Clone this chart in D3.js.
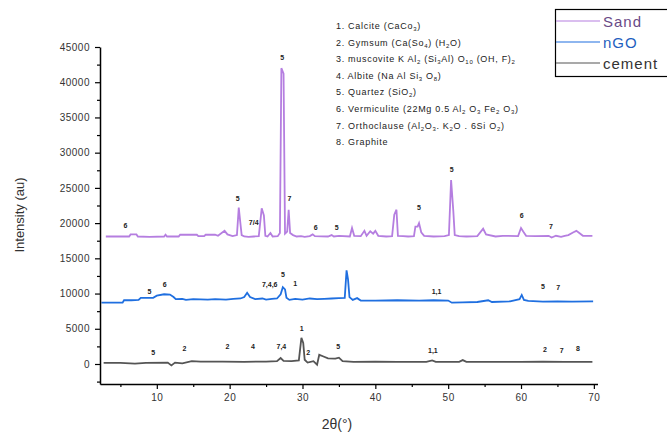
<!DOCTYPE html>
<html lang="en">
<head>
  <meta charset="UTF-8">
  <title>XRD patterns</title>
  <script src="https://d3js.org/d3.v7.min.js"></script>
  <style>
    body { margin: 0; background: #fff; }
    svg { font-family: "Liberation Sans", Arial, sans-serif; }
    .tick text { fill: #333; font-size: 10px; letter-spacing: 0.5px; }
    .peak { fill: #222; font-size: 7px; font-weight: bold; }
    .phase { fill: #222; font-size: 9px; letter-spacing: 0.7px; }
  </style>
</head>
<body>
  <div id="chart"></div>
  <script>
    // 2theta / intensity pairs
    const sand = [
      [3.0,18100],[5.0,18100],[6.2,18100],[6.4,18400],[7.2,18400],[7.4,18100],[9.0,18050],[11.0,18100],
      [11.2,18350],[11.4,18100],[13.0,18100],[13.2,18350],[15.5,18350],[15.7,18150],[16.5,18150],[16.7,18350],
      [18.0,18350],[18.4,18200],[19.3,18900],[19.7,18400],[20.4,18150],[21.0,18300],[21.25,22200],[21.45,20200],
      [21.65,18300],[22.0,18100],[22.6,18050],[23.3,18100],[24.0,18150],[24.4,22100],[24.7,21100],[24.9,18200],
      [25.2,18100],[25.6,18600],[25.9,18100],[26.6,18150],[26.9,18600],[27.1,42000],[27.4,41200],[27.6,18500],
      [27.9,18800],[28.1,21900],[28.3,18600],[28.7,18300],[29.2,18100],[29.8,18150],[30.3,18050],[31.0,18150],
      [31.4,18400],[31.7,18150],[33.5,18100],[34.0,18300],[34.3,18100],[35.0,18200],[36.5,18100],[36.8,19300],
      [37.1,18200],[38.0,18150],[38.5,18900],[38.8,18200],[39.3,18850],[39.7,18500],[40.0,18900],[40.4,18200],
      [41.5,18100],[42.3,18150],[42.6,21200],[42.9,21900],[43.1,18200],[43.8,18150],[44.5,18100],[45.3,18150],
      [45.5,19500],[45.8,19500],[46.0,20000],[46.3,18700],[46.7,18200],[48.0,18100],[49.5,18150],[50.1,18300],
      [50.4,26100],[50.7,21800],[50.9,18300],[51.5,18150],[52.5,18100],[54.0,18150],[54.8,19200],[55.2,18400],
      [56.5,18100],[57.5,18200],[59.6,18150],[60.0,19300],[60.3,18800],[60.7,18200],[62.0,18150],[63.8,18200],
      [64.2,17950],[64.8,18200],[65.5,18050],[66.0,18200],[66.5,18300],[67.2,18700],[67.6,18900],[68.0,18600],
      [68.5,18200],[69.8,18200]
    ]
    const ngo = [
      [2.4,8700],[5.3,8700],[5.5,9050],[6.5,9050],[7.5,9100],[7.8,9400],[9.5,9400],[10.0,9700],[11.0,9900],
      [11.8,9850],[12.3,9500],[12.6,9200],[13.5,9250],[14.0,9100],[15.0,9200],[17.0,9150],[18.0,9200],
      [19.5,9150],[20.5,9250],[21.5,9300],[22.0,9500],[22.4,10100],[22.8,9500],[23.5,9200],[24.5,9300],
      [25.0,9150],[25.8,9250],[26.5,9300],[27.0,9900],[27.3,10900],[27.6,10600],[27.8,9400],[28.2,9100],
      [29.0,9250],[30.0,9150],[31.0,9300],[32.0,9200],[33.0,9250],[34.0,9300],[35.0,9350],[35.8,9400],
      [36.05,13300],[36.25,12000],[36.45,9500],[36.9,9100],[37.5,9350],[38.0,9000],[40.0,9000],[43.0,9050],
      [46.0,9000],[48.0,9050],[50.0,9000],[50.5,8700],[52.0,8750],[54.0,8800],[55.5,9050],[56.0,8800],
      [58.5,8900],[59.8,9200],[60.1,9800],[60.4,9100],[61.0,8950],[63.0,8850],[65.0,8900],[67.0,8850],[69.9,8900]
    ]
    const cement = [
      [2.7,150],[5.0,150],[7.0,50],[8.5,150],[11.5,200],[12.0,-200],[12.5,200],[13.5,100],[14.8,400],
      [16.0,350],[19.0,350],[22.0,300],[25.0,350],[26.5,400],[27.0,850],[27.4,450],[28.5,400],[29.5,500],
      [29.85,3700],[30.1,3000],[30.3,600],[30.7,200],[31.5,400],[32.0,-100],[32.3,1300],[32.8,1100],[33.5,800],
      [34.5,750],[35.0,900],[35.5,400],[37.0,300],[40.0,350],[43.0,300],[47.0,300],[47.8,500],[48.3,300],
      [51.5,300],[52.0,550],[52.5,300],[56.0,300],[60.0,300],[63.0,350],[66.0,300],[69.8,300]
    ]

    // peak labels [2theta, intensity, text]
    const sandPeaks = [
      [5.7,19300,'6'],[21.1,23100,'5'],[23.3,19700,'7/4'],[27.2,43200,'5'],[28.2,23100,'7'],
      [31.8,19000,'6'],[34.7,19000,'5'],[46.0,21800,'5'],[50.5,27200,'5'],[60.1,20700,'6'],[64.1,19200,'7']
    ]
    const ngoPeaks = [
      [9.0,9900,'5'],[11.1,11000,'6'],[25.5,11000,'7,4,6'],[27.3,12300,'5'],[29.0,11100,'1'],
      [48.4,10000,'1,1'],[63.0,10600,'5'],[65.1,10500,'7']
    ]
    const cementPeaks = [
      [9.5,1300,'5'],[13.8,1900,'2'],[19.7,2100,'2'],[23.2,2100,'4'],[27.1,2100,'7,4'],[29.9,4700,'1'],
      [30.8,1300,'2'],[34.9,2100,'5'],[47.9,1500,'1,1'],[63.3,1700,'2'],[65.6,1500,'7'],[67.8,1800,'8']
    ]

    const phases = [
      ['1. Calcite (CaCo', '3', ')'],
      ['2. Gymsum (Ca(So', '4', ') (H', '2', 'O)'],
      ['3. muscovite K Al', '2', ' (Si', '3', 'Al) O', '10', ' (OH, F)', '2'],
      ['4. Albite (Na Al Si', '3', ' O', '8', ')'],
      ['5. Quartez (SiO', '2', ')'],
      ['6. Vermiculite (22Mg 0.5 Al', '2', ' O', '3', ' Fe', '2', ' O', '3', ')'],
      ['7. Orthoclause (Al', '2', 'O', '3', '. K', '2', 'O . 6Si O', '2', ')'],
      ['8. Graphite']
    ]

    const seriesNames = ['Sand', 'nGO', 'cement']
    const seriesColors = ['#b57ee0', '#1f6fe0', '#555555']
    const textColors = ['#6a4a86', '#1f5fc0', '#333333']

    const W = 667, H = 439
    const svg = d3.select('#chart').append('svg')
      .attr('width', W)
      .attr('height', H)

    const x = d3.scaleLinear().domain([2.2, 70.5]).range([100, 597.5])
    const y = d3.scaleLinear().domain([-2840, 45000]).range([384, 47])

    const line = d3.line()
      .x(d => x(d[0]))
      .y(d => y(d[1]))

    const allSeries = [sand, ngo, cement]
    allSeries.forEach((s, i) => {
      svg.append('path')
        .datum(s)
        .attr('d', line)
        .attr('fill', 'none')
        .attr('stroke', seriesColors[i])
        .attr('stroke-width', 1.8)
    })

    // x axis
    svg.append('g')
      .attr('transform', 'translate(0,384)')
      .call(d3.axisBottom(x).tickValues(d3.range(10, 71, 10)).tickSize(5).tickSizeOuter(0).tickPadding(5))
    svg.append('g')
      .attr('transform', 'translate(0,384)')
      .call(d3.axisBottom(x).tickValues(d3.range(5, 71, 10)).tickSize(3).tickFormat('').tickSizeOuter(0))
      .select('.domain').remove()

    // y axis
    svg.append('g')
      .attr('transform', 'translate(100,0)')
      .call(d3.axisLeft(y).tickValues(d3.range(0, 45001, 5000)).tickFormat(d3.format('d'))
        .tickSize(5).tickSizeOuter(0).tickPadding(5))
    svg.append('g')
      .attr('transform', 'translate(100,0)')
      .call(d3.axisLeft(y).tickValues(d3.range(-2500, 45000, 5000)).tickSize(3).tickFormat('').tickSizeOuter(0))
      .select('.domain').remove()

    svg.selectAll('.domain').attr('stroke', '#000').attr('stroke-width', 1.5)
    svg.selectAll('.tick line').attr('stroke', '#000').attr('stroke-width', 1.2)

    // axis titles
    svg.append('text')
      .attr('transform', 'translate(24,215) rotate(-90)')
      .attr('text-anchor', 'middle')
      .attr('fill', '#333')
      .style('font-size', '13px')
      .text('Intensity (au)')
    svg.append('text')
      .attr('x', 337)
      .attr('y', 429)
      .attr('text-anchor', 'middle')
      .attr('fill', '#333')
      .style('font-size', '14px')
      .text('2θ(°)')

    // peak labels
    const peakSets = [sandPeaks, ngoPeaks, cementPeaks]
    peakSets.forEach(set => {
      svg.selectAll(null)
        .data(set)
        .enter()
        .append('text')
        .attr('class', 'peak')
        .attr('x', d => x(d[0]))
        .attr('y', d => y(d[1]))
        .attr('text-anchor', 'middle')
        .text(d => d[2])
    })

    // phase list
    phases.forEach((parts, i) => {
      const t = svg.append('text')
        .attr('class', 'phase')
        .attr('x', 336)
        .attr('y', 29 + i * 16.6)
      parts.forEach((p, j) => {
        const sub = j % 2 === 1
        t.append('tspan')
          .attr('dy', sub ? 2 : (j > 0 ? -2 : 0))
          .style('font-size', sub ? '6px' : null)
          .text(p)
      })
    })

    // legend
    const lg = svg.append('g')
    lg.append('rect')
      .attr('x', 555.5)
      .attr('y', 9.5)
      .attr('width', 120)
      .attr('height', 67)
      .attr('fill', '#fff')
      .attr('stroke', '#000')
      .attr('stroke-width', 1.2)
    seriesNames.forEach((name, i) => {
      const ly = 21 + i * 21
      lg.append('line')
        .attr('x1', 556).attr('x2', 600)
        .attr('y1', ly).attr('y2', ly)
        .attr('stroke', seriesColors[i])
        .attr('stroke-width', 1.2)
      lg.append('text')
        .attr('x', 603)
        .attr('y', ly + 5.5)
        .attr('fill', textColors[i])
        .style('font-size', '15px')
        .style('letter-spacing', '1px')
        .text(name)
    })
  </script>
</body>
</html>
